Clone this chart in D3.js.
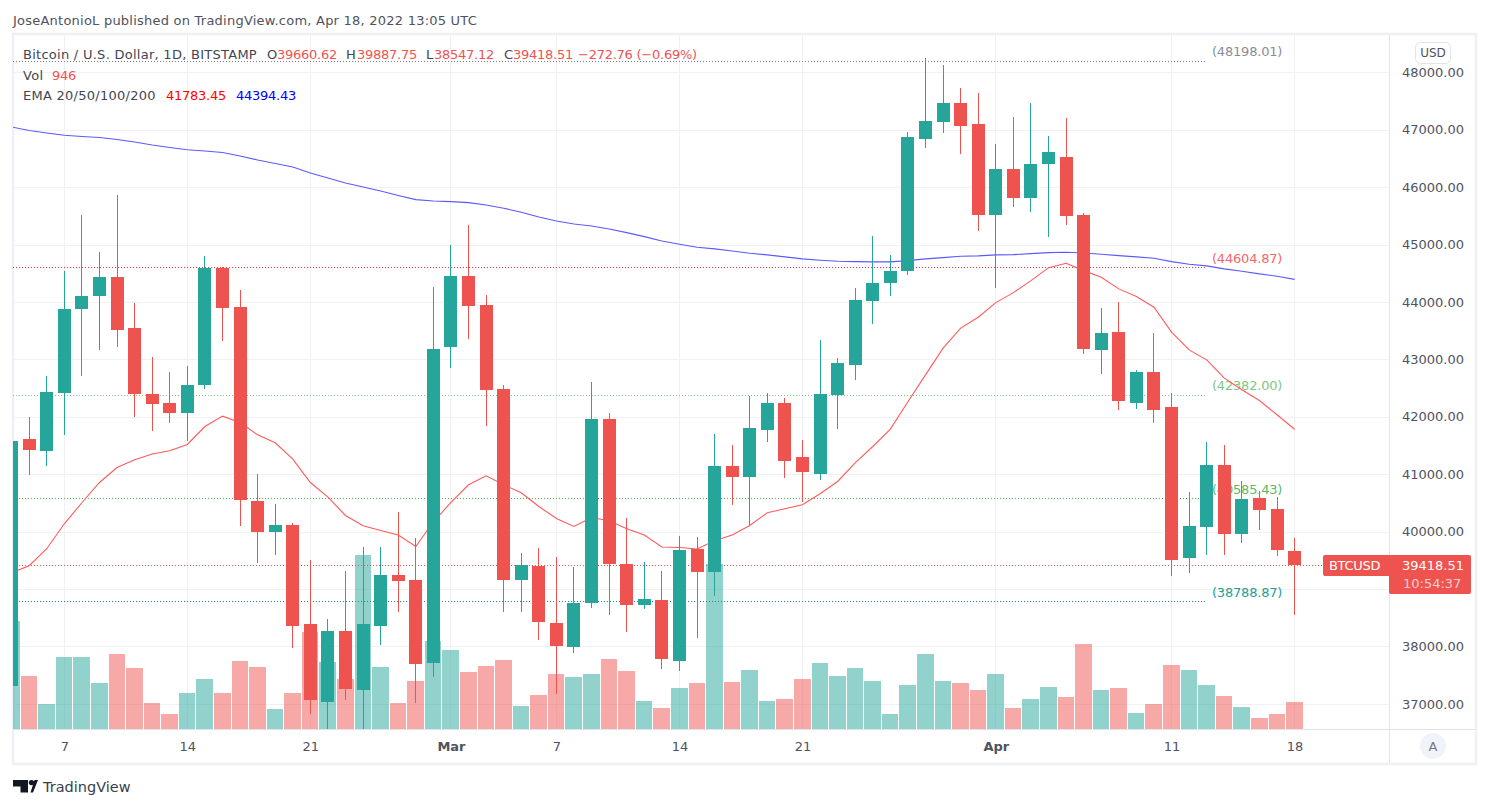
<!DOCTYPE html>
<html>
<head>
<meta charset="utf-8">
<script src="https://cdn.jsdelivr.net/npm/d3@7"></script>
<style>
  html, body { margin: 0; padding: 0; background: #fff; }
  svg { display: block; }
  text { font-family: "DejaVu Sans", sans-serif; font-size: 13px; }
</style>
</head>
<body>
<div id="chart"></div>
<script>
// daily candles, Feb 4 to Apr 18 2022
var opens = [37317,41617,41407,42418,43880,44106,44437,43549,42400,42243,42069,42557,44593,43914,40538,39998,40120,38397,37039,38275,37248,38362,39250,39163,37718,
  43218,44454,43949,42487,39163,39406,38414,37996,38762,41965,39441,38727,38814,37753,39702,39302,41147,40955,41773,42243,41303,41008,42382,42905,44019,44332,44541,46839,47135,47465,47100,
  45516,46316,45812,46403,46525,45516,43166,43479,42243,42783,42174,39546,40085,41164,39963,40590,40398,39660.62];
var highs = [41600,42000,42713,44541,45516,44872,45864,43984,43044,42783,42887,44802,44610,44210,41008,40485,40155,39511,38484,39319,39737,39737,40346,39893,44262,
  44994,45342,44123,42557,39632,39719,39563,39389,42609,42069,40242,39476,39319,39928,39911,41704,41512,42365,42418,42330,41599,43340,43026,44245,45150,44820,46960,48250,48127,47726,47639,
  46752,47222,47465,46891,47204,45550,43897,44001,42818,43462,42418,40694,41565,41512,40886,40712,40607,39887.75];
var lows = [37200,40990,41147,41686,42713,43166,43218,42000,41756,41895,41582,42487,43323,40102,39459,39598,37979,36830,36500,37074,36400,38031,38606,37022,37474,
  42853,43358,41843,38606,38606,38118,37178,37892,38675,38553,38258,38658,37613,37579,38153,38884,40468,40120,41565,40938,40520,40903,41791,42644,43619,44106,44471,46682,46943,46578,45237,
  44245,45655,45568,45133,45342,43096,42748,42122,42139,41895,39232,39284,39598,39598,39807,40033,39581,38547.12];
var closes = [41582,41425,42435,43880,44106,44437,43514,42400,42226,42069,42557,44593,43897,40555,39998,40120,38362,37074,38275,37265,38397,39250,39145,37700,43183,
  44454,43932,42470,39163,39424,38431,38014,38762,41965,39441,38727,38832,37788,39685,39302,41147,40955,41808,42243,41234,41042,42400,42939,44036,44332,44541,46873,47152,47465,47065,45516,
  46316,45812,46403,46612,45498,43183,43462,42278,42783,42122,39511,40102,41164,39963,40572,40381,39685,39418.51];
var volumes = [3780,1855,875,2520,2520,1610,2625,2135,910,525,1260,1750,1260,2380,2170,700,1260,3395,2345,1750,6090,2170,910,1680,3080,
  2765,1995,2205,2415,805,1190,1925,1820,1925,2450,2030,980,735,1435,1610,5775,1645,2065,980,1050,1750,2310,1855,2135,1680,525,1540,2625,1680,1610,1365,
  1925,735,1050,1470,1120,2975,1365,1435,560,875,2240,2065,1540,1155,770,385,525,946];
var ema20 = [39284,39406,39702,40137,40503,40856,41117,41251,41351,41408,41518,41831,42012,41901,41686,41547,41263,40856,40602,40282,40102,40021,39941,39742,40172,
  40508,40816,40973,40816,40677,40438,40229,40090,40247,40190,40050,39941,39732,39725,39697,39841,39941,40108,40329,40398,40468,40660,40874,41199,41483,41786,42261,42731,43196,43544,43735,
  43989,44163,44372,44598,44675,44546,44431,44228,44094,43909,43474,43166,42992,42673,42470,42283,42035,41783];
var ema200 = [47047,46987,46943,46903,46882,46865,46830,46786,46734,46691,46652,46630,46604,46543,46473,46412,46351,46247,46160,46073,46003,45933,45855,45782,45759,
  45747,45730,45690,45632,45563,45481,45411,45359,45324,45272,45208,45138,45063,45006,44953,44924,44889,44849,44820,44785,44750,44727,44710,44703,44698,44698,44720,44750,44773,44797,44802,
  44820,44825,44842,44860,44866,44854,44832,44807,44785,44762,44703,44658,44628,44576,44536,44489,44449,44394];

var days = d3.utcDay.range(new Date(Date.UTC(2022, 1, 4)), new Date(Date.UTC(2022, 3, 19)));

var priceTicks = [48000,47000,46000,45000,44000,43000,42000,41000,40000,39000,38000,37000];
// 39000 label sits under the price tag, so only its gridline shows
var priceLabels = [48000,47000,46000,45000,44000,43000,42000,41000,40000,38000,37000];
var dateTicks = [[1,7,"7"],[1,14,"14"],[1,21,"21"],[2,1,"Mar"],[2,7,"7"],[2,14,"14"],[2,21,"21"],[3,1,"Apr"],[3,11,"11"],[3,18,"18"]];

var fibLevels = [48198.01, 44604.87, 42382.00, 40585.43, 38788.87];
var fibLabels = ["(48198.01)", "(44604.87)", "(42382.00)", "(40585.43)", "(38788.87)"];
var fibColors = ["#787b86", "#f23645", "#81c784", "#4caf50", "#089981"];
var fibTextColors = ["#8a8d98", "#f7656b", "#81c784", "#5cb860", "#22a094"];

var lastPrice = 39418.51;
var upColor = "#26a69a";
var downColor = "#ef5350";
var gridColor = "#f1f1f4";

var svgWidth = 1489;
var svgHeight = 808;
var pane = { left: 13, right: 1389, top: 35, bottom: 729 };

var svg = d3.select("#chart").append("svg")
  .attr("width", svgWidth)
  .attr("height", svgHeight);

svg.append("defs").append("clipPath").attr("id", "paneClip").append("rect")
  .attr("x", pane.left)
  .attr("y", pane.top)
  .attr("width", pane.right - pane.left)
  .attr("height", pane.bottom - pane.top);

var xScale = d3.scaleUtc()
  .domain([new Date(Date.UTC(2022, 1, 7)), new Date(Date.UTC(2022, 3, 18))])
  .range([64.3, 1294.6]);
var yScale = d3.scaleLinear().domain([37000, 48000]).range([703.9, 72.3]);
var volScale = d3.scaleLinear().domain([0, 7000]).range([pane.bottom, pane.bottom - 200]);

var tickDates = dateTicks.map(d => new Date(Date.UTC(2022, d[0], d[1])));
var dayStep = xScale(days[1]) - xScale(days[0]);

// outer frame
svg.append("rect")
  .attr("x", 13).attr("y", 34)
  .attr("width", 1463).attr("height", 730)
  .attr("fill", "#fff")
  .attr("stroke", "#eff0f5")
  .attr("stroke-width", 2.5);

svg.append("text")
  .attr("x", 13).attr("y", 20)
  .attr("dy", "0.35em")
  .attr("fill", "#50535e")
  .style("letter-spacing", "0.23px")
  .text("JoseAntonioL published on TradingView.com, Apr 18, 2022 13:05 UTC");

// grid
var gridGroup = svg.append("g").attr("shape-rendering", "crispEdges");
gridGroup.selectAll(".hgrid").data(priceTicks).enter().append("line")
  .attr("x1", pane.left).attr("x2", pane.right)
  .attr("y1", d => Math.round(yScale(d)) + 0.5).attr("y2", d => Math.round(yScale(d)) + 0.5)
  .attr("stroke", gridColor);
gridGroup.selectAll(".vgrid").data(tickDates).enter().append("line")
  .attr("x1", d => Math.floor(xScale(d)) + 0.5).attr("x2", d => Math.floor(xScale(d)) + 0.5)
  .attr("y1", pane.top).attr("y2", pane.bottom)
  .attr("stroke", gridColor);

var plot = svg.append("g").attr("clip-path", "url(#paneClip)");

// volume
plot.append("g").attr("shape-rendering", "crispEdges").selectAll("rect")
  .data(days).enter().append("rect")
  .attr("x", d => Math.round(xScale(d) - 8.5))
  .attr("width", d => Math.round(xScale(d) - 8.5 + dayStep) - 1 - Math.round(xScale(d) - 8.5))
  .attr("y", (d, i) => Math.round(volScale(volumes[i])))
  .attr("height", (d, i) => pane.bottom - Math.round(volScale(volumes[i])))
  .attr("fill", (d, i) => closes[i] >= opens[i] ? upColor : downColor)
  .attr("opacity", 0.5);

// fib levels
plot.append("g").selectAll("line")
  .data(fibLevels).enter().append("line")
  .attr("x1", pane.left).attr("x2", 1205)
  .attr("y1", d => Math.round(yScale(d)) + 0.5).attr("y2", d => Math.round(yScale(d)) + 0.5)
  .attr("stroke", (d, i) => fibColors[i])
  .attr("stroke-dasharray", "1 2");
plot.append("g").selectAll("text")
  .data(fibLevels).enter().append("text")
  .attr("x", 1212)
  .attr("y", d => yScale(d) - 9)
  .attr("dy", "0.35em")
  .attr("fill", (d, i) => fibTextColors[i])
  .style("letter-spacing", "-0.2px")
  .text((d, i) => fibLabels[i]);

// last price line
plot.append("line")
  .attr("x1", pane.left).attr("x2", pane.right)
  .attr("y1", Math.round(yScale(lastPrice)) + 0.5).attr("y2", Math.round(yScale(lastPrice)) + 0.5)
  .attr("stroke", downColor)
  .attr("stroke-dasharray", "1 2");

// EMAs
var emaLine = d3.line().x((d, i) => xScale(days[i])).y(d => yScale(d));
plot.append("path").datum(ema20)
  .attr("d", emaLine).attr("fill", "none")
  .attr("stroke", "#ff5a5a").attr("stroke-width", 1.1);
plot.append("path").datum(ema200)
  .attr("d", emaLine).attr("fill", "none")
  .attr("stroke", "#5a5aff").attr("stroke-width", 1.1);

// candles
var candles = plot.append("g").attr("shape-rendering", "crispEdges").selectAll("g")
  .data(days).enter().append("g")
  .attr("fill", (d, i) => closes[i] >= opens[i] ? upColor : downColor);
candles.append("rect")
  .attr("x", d => Math.round(xScale(d) - 6.5) + 6)
  .attr("width", 1)
  .attr("y", (d, i) => Math.round(yScale(highs[i])))
  .attr("height", (d, i) => Math.round(yScale(lows[i])) - Math.round(yScale(highs[i])));
candles.append("rect")
  .attr("x", d => Math.round(xScale(d) - 6.5))
  .attr("width", 13)
  .attr("y", (d, i) => Math.round(yScale(Math.max(opens[i], closes[i]))))
  .attr("height", (d, i) => Math.round(yScale(Math.min(opens[i], closes[i]))) - Math.round(yScale(Math.max(opens[i], closes[i]))));

// axes
svg.append("line")
  .attr("x1", pane.left).attr("x2", 1475)
  .attr("y1", pane.bottom + 0.5).attr("y2", pane.bottom + 0.5)
  .attr("stroke", "#e0e3eb").attr("shape-rendering", "crispEdges");
svg.append("line")
  .attr("x1", pane.right + 0.5).attr("x2", pane.right + 0.5)
  .attr("y1", pane.top).attr("y2", 763)
  .attr("stroke", "#e0e3eb").attr("shape-rendering", "crispEdges");

var yAxis = svg.append("g")
  .attr("transform", `translate(${pane.right}, 0)`)
  .call(d3.axisRight(yScale).tickValues(priceLabels).tickFormat(d3.format(".2f")).tickSize(0).tickPadding(13));
yAxis.select(".domain").remove();
yAxis.selectAll("text").attr("fill", "#50535e").style("font-size", "13px").style("font-family", '"DejaVu Sans", sans-serif');

var xAxis = svg.append("g")
  .attr("transform", `translate(0, ${pane.bottom})`)
  .call(d3.axisBottom(xScale).tickValues(tickDates).tickFormat((d, i) => dateTicks[i][2]).tickSize(0).tickPadding(13));
xAxis.select(".domain").remove();
xAxis.selectAll("text")
  .attr("fill", "#50535e")
  .style("font-size", "13px")
  .style("font-family", '"DejaVu Sans", sans-serif')
  .style("font-weight", (d, i) => dateTicks[i][2] == "Mar" || dateTicks[i][2] == "Apr" ? "bold" : "normal");

// legend
var legendItems = [
  ["Bitcoin / U.S. Dollar, 1D, BITSTAMP", 23, 54, "#434651"],
  ["O", 267, 54, "#434651"], ["39660.62", 277, 54, downColor],
  ["H", 346, 54, "#434651"], ["39887.75", 357, 54, downColor],
  ["L", 426, 54, "#434651"], ["38547.12", 434, 54, downColor],
  ["C", 504, 54, "#434651"], ["39418.51", 513, 54, downColor],
  ["\u2212272.76 (\u22120.69%)", 578, 54, downColor],
  ["Vol", 23, 75, "#434651"], ["946", 52, 75, downColor],
  ["EMA 20/50/100/200", 23, 95, "#434651"],
  ["41783.45", 166, 95, "#ff0000"], ["44394.43", 236, 95, "#0000ff"]
];
svg.append("g").selectAll("text")
  .data(legendItems).enter().append("text")
  .attr("x", d => d[1]).attr("y", d => d[2])
  .attr("dy", "0.35em")
  .attr("fill", d => d[3])
  .style("letter-spacing", d => /^[\d\u2212]/.test(d[0]) ? "-0.25px" : "0.27px")
  .text(d => d[0]);

// last price tag
var tagY = Math.round(yScale(lastPrice));
svg.append("rect").attr("x", 1323).attr("y", tagY - 10).attr("width", 70).attr("height", 21).attr("rx", 2).attr("fill", downColor);
svg.append("rect").attr("x", pane.right).attr("y", tagY - 10).attr("width", 82).attr("height", 39).attr("rx", 2).attr("fill", downColor);
svg.append("text").attr("x", 1329).attr("y", tagY).attr("dy", "0.35em").attr("fill", "#fff").style("letter-spacing", "-0.3px").text("BTCUSD");
svg.append("text").attr("x", 1402).attr("y", tagY).attr("dy", "0.35em").attr("fill", "#fff").text(d3.format(".2f")(lastPrice));
svg.append("text").attr("x", 1403).attr("y", tagY + 18).attr("dy", "0.35em").attr("fill", "#fff").attr("opacity", 0.7).text("10:54:37");

// USD button and auto button
svg.append("rect").attr("x", 1415.5).attr("y", 42.5).attr("width", 35).attr("height", 21).attr("rx", 5)
  .attr("fill", "#fff").attr("stroke", "#e0e3eb");
svg.append("text").attr("x", 1433).attr("y", 53).attr("dy", "0.35em").attr("text-anchor", "middle").attr("fill", "#50535e").style("font-size", "12px").text("USD");
svg.append("circle").attr("cx", 1433).attr("cy", 746).attr("r", 13).attr("fill", "#f0f3fa");
svg.append("text").attr("x", 1433).attr("y", 746).attr("dy", "0.35em").attr("text-anchor", "middle").attr("fill", "#787b86").text("A");

// TradingView mark
var logo = svg.append("g").attr("fill", "#131722");
logo.append("path").attr("d", "M13 780H28V792.5H20.5V786.5H13Z");
logo.append("circle").attr("cx", 31.5).attr("cy", 782.6).attr("r", 2.7);
logo.append("path").attr("d", "M30.5 792.5L34.5 780H38L33 792.5Z");
svg.append("text").attr("x", 43).attr("y", 787).attr("dy", "0.35em").attr("fill", "#3b3f4a").style("font-size", "14.5px").text("TradingView");
</script>
</body>
</html>
